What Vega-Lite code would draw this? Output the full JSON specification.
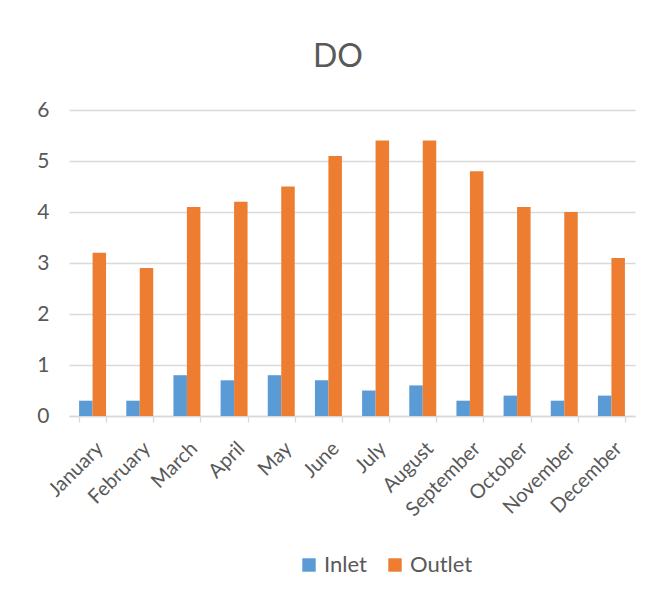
{
  "$schema": "https://vega.github.io/schema/vega-lite/v6.json",
  "autosize": "none",
  "width": 566,
  "height": 306,
  "padding": {"left": 69, "top": 110, "right": 17, "bottom": 185},
  "background": "white",
  "title": {
    "text": "DO",
    "font": "Lato",
    "fontSize": 32,
    "fontWeight": "normal",
    "color": "#595959",
    "anchor": "middle",
    "dx": -14,
    "baseline": "alphabetic",
    "offset": 0
  },
  "data": {
    "values": [
      {"month": "January", "site": "Inlet", "value": 0.3},
      {"month": "January", "site": "Outlet", "value": 3.2},
      {"month": "February", "site": "Inlet", "value": 0.3},
      {"month": "February", "site": "Outlet", "value": 2.9},
      {"month": "March", "site": "Inlet", "value": 0.8},
      {"month": "March", "site": "Outlet", "value": 4.1},
      {"month": "April", "site": "Inlet", "value": 0.7},
      {"month": "April", "site": "Outlet", "value": 4.2},
      {"month": "May", "site": "Inlet", "value": 0.8},
      {"month": "May", "site": "Outlet", "value": 4.5},
      {"month": "June", "site": "Inlet", "value": 0.7},
      {"month": "June", "site": "Outlet", "value": 5.1},
      {"month": "July", "site": "Inlet", "value": 0.5},
      {"month": "July", "site": "Outlet", "value": 5.4},
      {"month": "August", "site": "Inlet", "value": 0.6},
      {"month": "August", "site": "Outlet", "value": 5.4},
      {"month": "September", "site": "Inlet", "value": 0.3},
      {"month": "September", "site": "Outlet", "value": 4.8},
      {"month": "October", "site": "Inlet", "value": 0.4},
      {"month": "October", "site": "Outlet", "value": 4.1},
      {"month": "November", "site": "Inlet", "value": 0.3},
      {"month": "November", "site": "Outlet", "value": 4.0},
      {"month": "December", "site": "Inlet", "value": 0.4},
      {"month": "December", "site": "Outlet", "value": 3.1}
    ]
  },
  "mark": {"type": "bar"},
  "encoding": {
    "x": {
      "field": "month",
      "type": "nominal",
      "sort": null,
      "scale": {"paddingInner": 0.428, "paddingOuter": 0.214},
      "axis": {
        "title": null,
        "labelAngle": -45,
        "labelFont": "Lato",
        "labelFontSize": 20,
        "labelColor": "#595959",
        "labelPadding": 16,
        "labelOverlap": false,
        "domainColor": "#D9D9D9",
        "domainWidth": 1.3,
        "tickColor": "#D9D9D9",
        "tickWidth": 1.3,
        "tickSize": 6,
        "tickBand": "extent",
        "grid": false
      }
    },
    "xOffset": {"field": "site", "type": "nominal", "scale": {"paddingInner": 0, "paddingOuter": 0}},
    "y": {
      "field": "value",
      "type": "quantitative",
      "scale": {"domain": [0, 6]},
      "axis": {
        "title": null,
        "values": [0, 1, 2, 3, 4, 5, 6],
        "labelFont": "Lato",
        "labelFontSize": 21,
        "labelColor": "#595959",
        "labelPadding": 20,
        "domain": false,
        "ticks": false,
        "gridColor": "#D9D9D9",
        "gridWidth": 1.3
      }
    },
    "color": {
      "field": "site",
      "type": "nominal",
      "scale": {"domain": ["Inlet", "Outlet"], "range": ["#5B9BD5", "#ED7D31"]},
      "legend": {
        "title": null,
        "orient": "none",
        "direction": "horizontal",
        "legendX": 229,
        "legendY": 444,
        "symbolType": "square",
        "symbolSize": 180,
        "symbolStrokeWidth": 0,
        "labelFont": "Lato",
        "labelFontSize": 22,
        "labelColor": "#595959",
        "columnPadding": 17,
        "labelOffset": 4
      }
    }
  },
  "config": {"view": {"stroke": null}}
}
